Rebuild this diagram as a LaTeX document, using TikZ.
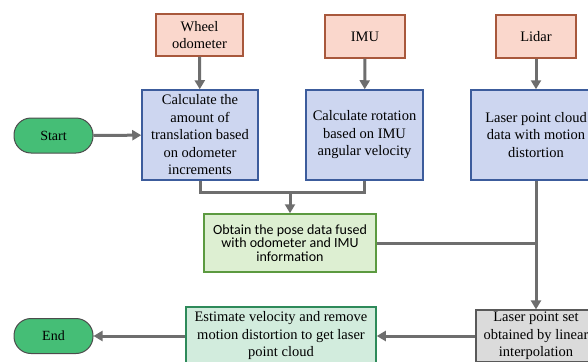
\documentclass[tikz,border=0pt]{standalone}
\usepackage{fontspec}
\setmainfont{Liberation Serif}
\newfontfamily\calib{Carlito}
\usetikzlibrary{arrows.meta}

\definecolor{srcfill}{HTML}{FAD7CC}
\definecolor{srcdraw}{HTML}{A8583C}
\definecolor{calcfill}{HTML}{CDD6F0}
\definecolor{calcdraw}{HTML}{3C5C9C}
\definecolor{fusefill}{HTML}{DDEFD2}
\definecolor{fusedraw}{HTML}{5C9A40}
\definecolor{outfill}{HTML}{D2ECDD}
\definecolor{outdraw}{HTML}{2E8A5A}
\definecolor{termfill}{HTML}{45BE76}
\definecolor{linkgray}{HTML}{6E6E6E}

\begin{document}
\begin{tikzpicture}[x=1pt, y=-1pt,
  box/.style={draw, line width=1.5pt, align=center, inner sep=2pt,
    font=\rmfamily\fontsize{14.5}{17.5}\selectfont},
  srcbox/.style={box, fill=srcfill, draw=srcdraw},
  calcbox/.style={box, fill=calcfill, draw=calcdraw},
  term/.style={draw=black!70, line width=1pt, fill=termfill, rounded corners=17pt,
    minimum width=79pt, minimum height=35pt, font=\rmfamily\fontsize{14}{16}\selectfont},
  link/.style={draw=linkgray, line width=3pt},
  arr/.style={link, -{Triangle[length=9pt, width=10pt]}}]
\useasboundingbox (0,0) rectangle (588,361);
\clip (0,0) rectangle (588,361);

% inputs
\node[srcbox, minimum width=87pt, minimum height=42pt] (wheel) at (199.5,35) {Wheel\\odometer};
\node[srcbox, minimum width=80pt, minimum height=43pt] (imu) at (365,36.5) {IMU};
\node[srcbox, minimum width=80pt, minimum height=43pt] (lidar) at (536,36.5) {Lidar};

% processing
\node[calcbox, minimum width=116pt, minimum height=90pt] (trans) at (200,135)
  {Calculate the\\amount of\\translation based\\on odometer\\increments};
\node[calcbox, minimum width=117pt, minimum height=90pt] (rot) at (364.5,135)
  {Calculate rotation\\based on IMU\\angular velocity};
\node[calcbox, minimum width=130pt, minimum height=90pt] (cloud) at (536,135)
  {Laser point cloud\\data with motion\\distortion};

\node[term] (start) at (53.5,135.5) {Start};
\node[term] (end) at (53.5,336) {End};

\node[box, fill=fusefill, draw=fusedraw, minimum width=172pt, minimum height=58pt,
  font=\calib\fontsize{14}{13.5}\selectfont] (pose) at (290,243)
  {Obtain the pose data fused\\with odometer and IMU\\information};
\node[box, fill=outfill, draw=outdraw, minimum width=190pt, minimum height=58pt] (est) at (281,336)
  {Estimate velocity and remove\\motion distortion to get laser\\point cloud};
\node[box, fill=black!14, draw=black!65, minimum width=120pt, minimum height=48pt] (set) at (536,336)
  {Laser point set\\obtained by linear\\interpolation};

\coordinate (join) at (290,192);

% connectors
\draw[arr] (wheel) -- (trans);
\draw[arr] (imu) -- (rot);
\draw[arr] (lidar) -- (cloud);
\draw[arr] (start) -- (trans);
\draw[link] (trans.south) |- (join);
\draw[link] (rot.south) |- (join);
\draw[arr] (join) -- (pose);
\draw[arr] (cloud) -- (set);
\draw[link] (pose.east) -- (pose.east -| cloud.south);
\draw[arr] (set) -- (est);
\draw[arr] (est) -- (end);
\end{tikzpicture}
\end{document}
